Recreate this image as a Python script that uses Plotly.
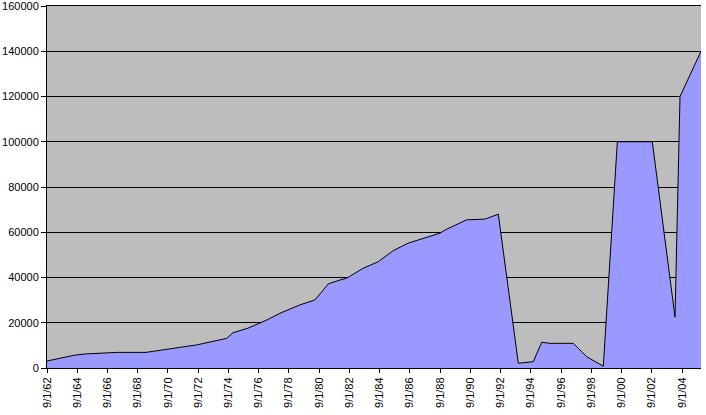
import plotly.graph_objects as go

dates = [
    "1962-09-01", "1964-07-08", "1965-03-07", "1966-04-15", "1967-04-10",
    "1969-03-20", "1970-09-02", "1972-07-26", "1974-07-20", "1974-12-20",
    "1975-12-16", "1977-03-13", "1978-01-28", "1979-05-26", "1980-05-23",
    "1981-04-10", "1982-01-17", "1982-06-27", "1983-08-02", "1984-07-30",
    "1985-07-27", "1986-07-24", "1988-08-28", "1988-12-27", "1990-06-05",
    "1991-08-20", "1992-07-07", "1993-11-02", "1994-10-30", "1995-05-21",
    "1995-12-07", "1997-06-23", "1998-05-12", "1999-06-17", "2000-05-21",
    "2002-09-13", "2004-03-14", "2004-07-13", "2005-12-02",
]
values = [
    3100, 5700, 6200, 6500, 6900,
    6900, 8300, 10200, 13100, 15600,
    17600, 21200, 24200, 27900, 30100,
    37200, 38900, 39700, 44100, 47000,
    51900, 55200, 59600, 61000, 65500,
    65800, 68000, 2100, 2800, 11400,
    10900, 10900, 5000, 800, 100000,
    100000, 22500, 120000, 140000,
]

tick_years = list(range(1962, 2005, 2))
tick_vals = [f"{y}-09-01" for y in tick_years]
tick_text = [f"9/1/{y % 100:02d}" for y in tick_years]

fig = go.Figure()
fig.add_trace(go.Scatter(
    x=dates, y=values, mode="lines", fill="tozeroy",
    line=dict(color="black", width=1),
    fillcolor="#9999ff",
))

fig.update_layout(
    width=706, height=415,
    margin=dict(l=47, r=5, t=6, b=47, autoexpand=False),
    paper_bgcolor="white",
    plot_bgcolor="#bdbdbd",
    showlegend=False,
    font=dict(family="Liberation Sans, Arial, sans-serif", size=11, color="black"),
)
fig.update_xaxes(
    range=[dates[0], dates[-1]], automargin=False,
    tickvals=tick_vals, ticktext=tick_text, tickangle=-90,
    showgrid=False, zeroline=False,
    showline=True, linecolor="black", linewidth=1, mirror=True,
    ticks="outside", ticklen=4, tickcolor="black",
    ticklabeloverflow="allow",
)
fig.update_yaxes(
    range=[0, 160000], dtick=20000, tickformat="d", automargin=False,
    showgrid=True, gridcolor="black", gridwidth=1,
    zeroline=False,
    showline=True, linecolor="black", linewidth=1,
    ticks="outside", ticklen=5, tickcolor="black",
    ticklabeloverflow="allow",
)

fig.write_html("out.html", config={"displayModeBar": False})

# remove default page margin so the 706x415 figure fills the window exactly
with open("out.html", "r", encoding="utf-8") as f:
    html = f.read()
html = html.replace("<head>", "<head><style>html,body{margin:0;padding:0;overflow:hidden}</style>", 1)
with open("out.html", "w", encoding="utf-8") as f:
    f.write(html)
